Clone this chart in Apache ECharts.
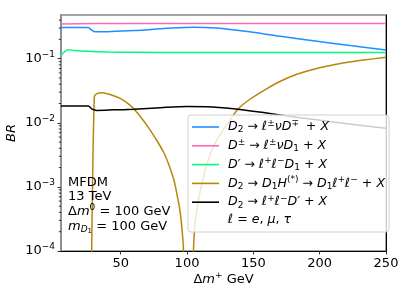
<!DOCTYPE html>
<html>
<head>
<meta charset="utf-8">
<script src="https://cdn.jsdelivr.net/npm/echarts@6/dist/echarts.min.js"></script>
<style>html,body{margin:0;padding:0;background:#fff;}#c{width:407px;height:296px;}</style>
</head>
<body>
<div id="c"></div>
<script>
// ---- data ----
const xTicks = [50, 100, 150, 200, 250];
const yTickExps = [-4, -3, -2, -1];

const blueX = [5, 25.5, 28, 31, 40, 60, 85, 105, 122, 147, 172, 198, 223, 250];
const blueY = [0.307, 0.307, 0.28, 0.263, 0.264, 0.274, 0.297, 0.31, 0.30, 0.262, 0.221, 0.187, 0.16, 0.137];

const pinkX = [5, 30, 100, 250];
const pinkY = [0.348, 0.353, 0.355, 0.355];

const greenX = [5, 10.3, 15, 25, 40, 60, 100, 150, 200, 250];
const greenY = [0.112, 0.138, 0.134, 0.130, 0.127, 0.126, 0.125, 0.125, 0.125, 0.125];

const goldX = [28.0, 30.1, 32, 35.9, 42, 50, 57.2, 63, 69.8, 76, 82.3, 86, 89.8, 92, 94.8, 96.2, 97.3, 98.2,
               103.5, 104.85, 106.1, 108.5, 111.2, 114.5, 118.7, 123.5, 128.7, 138.7, 149, 160, 170, 182.7, 195, 208, 220, 233, 250];
const goldY = [5.6e-5, 0.0251, 0.0285, 0.0294, 0.0277, 0.0238, 0.0187, 0.0140, 0.0091, 0.0058, 0.0035, 0.0023, 0.00135, 0.00085, 0.00041, 0.00022, 0.00011, 1e-5,
               1e-5, 1e-4, 2.7e-4, 6e-4, 0.00113, 0.0021, 0.00372, 0.0058, 0.00857, 0.0166, 0.0245, 0.0339, 0.044, 0.057, 0.068, 0.078, 0.087, 0.095, 0.105];

const blackX = [5, 25.5, 28.5, 32, 45, 60, 80, 100, 115, 135, 160, 185, 210, 235, 250];
const blackY = [0.0183, 0.0183, 0.0163, 0.0156, 0.0159, 0.0163, 0.0172, 0.0179, 0.0178, 0.0166, 0.0142, 0.0120, 0.0103, 0.0089, 0.0082];

const FONT = 'DejaVu Sans';
const pair = (xs, ys) => xs.map((x, i) => [x, ys[i]]);

// minor ticks values 2..9 x 10^n
const minorTicks = [];
for (let e = -4; e <= -1; e++) for (let k = 2; k <= 9; k++) { const v = k * Math.pow(10, e); if (v < 0.48) minorTicks.push(v); }

const LS = 12.6;
const richLegend = {
  g: {fontFamily: FONT, fontSize: LS, width: 4},
  i: {fontFamily: FONT, fontStyle: 'italic', fontSize: LS, color: '#000'},
  r: {fontFamily: FONT, fontSize: LS, color: '#000'},
  sup: {fontFamily: FONT, fontSize: 9, color: '#000', padding: [0, 0, 7, 0]},
  sub: {fontFamily: FONT, fontSize: 9, color: '#000', padding: [6, 0, 0, 0]}
};
const legendLabels = {
  s1: '{g| }{i|D}{sub|2}{r| → }{i|ℓ}{sup|±}{i|νD}{sup|∓ }{r| + }{i|X}',
  s2: '{g| }{i|D}{sup|±}{r| → }{i|ℓ}{sup|±}{i|νD}{sub|1}{r| + }{i|X}',
  s3: '{g| }{i|D′}{r| → }{i|ℓ}{sup|+}{i|ℓ}{sup|−}{i|D}{sub|1}{r| + }{i|X}',
  s4: '{g| }{i|D}{sub|2}{r| → }{i|D}{sub|1}{i|H}{sup|(*)}{r| → }{i|D}{sub|1}{i|ℓ}{sup|+}{i|ℓ}{sup|−}{r| + }{i|X}',
  s5: '{g| }{i|D}{sub|2}{r| → }{i|ℓ}{sup|+}{i|ℓ}{sup|−}{i|D′}{r| + }{i|X}',
  s6: '{g| }{i|ℓ}{r| = }{i|e}{r|, }{i|μ}{r|, }{i|τ}'
};

const richText = {
  r: {fontFamily: FONT, fontSize: 13, color: '#000'},
  i: {fontFamily: FONT, fontStyle: 'italic', fontSize: 13, color: '#000'},
  sup: {fontFamily: FONT, fontSize: 9, color: '#000', padding: [0, 0, 8, 0]},
  sub: {fontFamily: FONT, fontStyle: 'italic', fontSize: 9, color: '#000', padding: [6, 0, 0, 0]},
  subsub: {fontFamily: FONT, fontSize: 7, color: '#000', padding: [10, 0, 0, 0]}
};

function lineSeries(name, xs, ys, color) {
  return {
    name, type: 'line', data: pair(xs, ys), symbol: 'none', smooth: 0.3,
    lineStyle: {color, width: 1.5}, itemStyle: {color}, clip: true, z: 3
  };
}

const chart = echarts.init(document.getElementById('c'), null, {renderer: 'canvas'});
chart.setOption({
  animation: false,
  backgroundColor: '#fff',
  grid: {left: 61, right: 21, top: 15, bottom: 45, show: true, borderColor: '#888', borderWidth: 1.5, backgroundColor: 'transparent'},
  xAxis: {
    type: 'value', min: 5, max: 250, interval: 50,
    axisLine: {show: true, lineStyle: {color: '#000', width: 1}},
    axisTick: {show: true, inside: false, length: 3.5, lineStyle: {color: '#333'},
      customValues: xTicks},
    axisLabel: {fontFamily: FONT, fontSize: 13, color: '#000', margin: 6, customValues: xTicks},
    splitLine: {show: false}
  },
  yAxis: [{
    type: 'log', logBase: 10, min: 1e-4, max: 0.48,
    axisLine: {show: true, lineStyle: {color: '#888', width: 1.5}},
    axisTick: {show: true, length: 3.5, lineStyle: {color: '#333'},
      customValues: yTickExps.map(e => Math.pow(10, e))},
    axisLabel: {
      margin: 6, customValues: yTickExps.map(e => Math.pow(10, e)),
      formatter: v => '{b|10}{s|' + String(Math.round(Math.log10(v))).replace('-', '−') + '}',
      rich: {
        b: {fontFamily: FONT, fontSize: 13, color: '#000'},
        s: {fontFamily: FONT, fontSize: 9, color: '#000', padding: [0, 0, 8, 0]}
      }
    },
    splitLine: {show: false}
  }, {
    type: 'log', logBase: 10, min: 1e-4, max: 0.48, position: 'right',
    axisLine: {show: true, lineStyle: {color: '#000', width: 1}},
    axisTick: {show: false}, axisLabel: {show: false}, splitLine: {show: false}
  }],
  legend: {
    data: ['s1', 's2', 's3', 's4', 's5', 's6'],
    orient: 'vertical', left: 188, top: 115, icon: 'rect',
    padding: [4, 4, 5, 4], itemGap: 3.3, itemWidth: 27, itemHeight: 1.6,
    backgroundColor: 'rgba(255,255,255,0.8)', borderColor: '#d0d0d0', borderWidth: 1, borderRadius: 3,
    formatter: n => legendLabels[n],
    textStyle: {fontFamily: FONT, fontSize: LS, color: '#000', lineHeight: 14, rich: richLegend},
    selectedMode: false
  },
  graphic: [
    {type: 'text', x: 68, y: 182.3, style: {text: 'MFDM', fontFamily: FONT, fontSize: 13, fill: '#000', verticalAlign: 'middle'}, z: 10},
    {type: 'text', x: 68, y: 197, style: {text: '13 TeV', fontFamily: FONT, fontSize: 13, fill: '#000', verticalAlign: 'middle'}, z: 10},
    {type: 'text', x: 68, y: 211.7, style: {text: '{r|Δ}{i|m}{sup|0}{r| = 100 GeV}', rich: richText, verticalAlign: 'middle'}, z: 10},
    {type: 'text', x: 68, y: 226.5, style: {text: '{i|m}{sub|D}{subsub|1}{r| = 100 GeV}', rich: richText, verticalAlign: 'middle'}, z: 10},
    {type: 'text', x: 223.5, y: 280, style: {text: '{r|Δ}{i|m}{sup|+}{r| GeV}', rich: richText, align: 'center', verticalAlign: 'middle'}, z: 10},
    {type: 'text', x: 12, y: 133, rotation: Math.PI / 2, style: {text: 'BR', fontFamily: FONT, fontStyle: 'italic', fontSize: 13, fill: '#000', align: 'center', verticalAlign: 'middle'}, z: 10}
  ],
  series: [
    lineSeries('s1', blueX, blueY, '#1e8fff'),
    lineSeries('s2', pinkX, pinkY, '#ff69b4'),
    lineSeries('s3', greenX, greenY, '#00fa7f'),
    lineSeries('s4', goldX, goldY, '#b8860b'),
    lineSeries('s5', blackX, blackY, '#000000'),
    {name: 's6', type: 'line', data: [], symbol: 'none', lineStyle: {color: 'rgba(0,0,0,0)', width: 0}, itemStyle: {color: 'rgba(0,0,0,0)'}},
    {
      name: 'minor', type: 'custom', data: minorTicks.map(v => [5, v]), clip: false, silent: true, z: 5,
      renderItem: (params, api) => {
        const p = api.coord([api.value(0), api.value(1)]);
        return {type: 'line', shape: {x1: p[0] - 2.2, y1: p[1], x2: p[0], y2: p[1]}, style: {stroke: '#333', lineWidth: 1}};
      }
    }
  ]
});
</script>
</body>
</html>
